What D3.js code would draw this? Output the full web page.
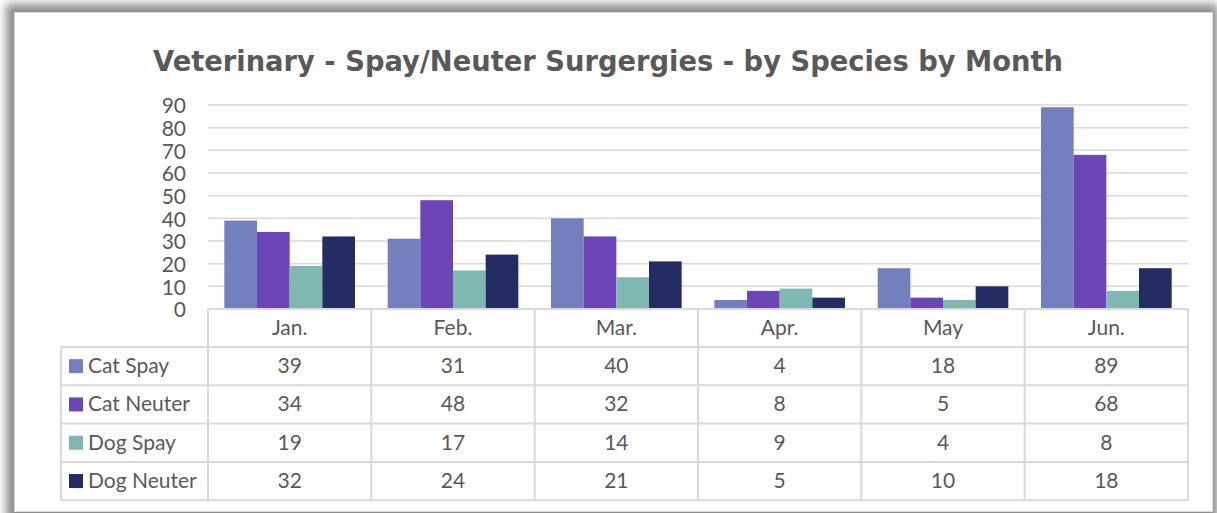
<!DOCTYPE html>
<html>
<head>
<meta charset="utf-8">
<script src="https://cdn.jsdelivr.net/npm/d3@7"></script>
<style>
  body { margin: 0; background: #ffffff; }
  svg { display: block; }
</style>
</head>
<body>
<div id="chart"></div>
<script>
// data
const months = ["Jan.", "Feb.", "Mar.", "Apr.", "May", "Jun."]
const seriesNames = ["Cat Spay", "Cat Neuter", "Dog Spay", "Dog Neuter"]
const catSpay = [39, 31, 40, 4, 18, 89]
const catNeuter = [34, 48, 32, 8, 5, 68]
const dogSpay = [19, 17, 14, 9, 4, 8]
const dogNeuter = [32, 24, 21, 5, 10, 18]
const yTicks = [0, 10, 20, 30, 40, 50, 60, 70, 80, 90]
const colors = ["#7480be", "#6c46b7", "#7fb8b0", "#232c63"]

const seriesValues = [catSpay, catNeuter, dogSpay, dogNeuter]

let width = 1217
let height = 513
let textColor = "#595959"
let lineColor = "#d9d9d9"
let font = "Lato, 'Open Sans', sans-serif"

let svg = d3.select("#chart")
  .append("svg")
  .attr("width", width)
  .attr("height", height)

// frame with soft shadow on top/left
let defs = svg.append("defs")
let blur = defs.append("filter").attr("id", "shadow")
  .attr("x", "-5%").attr("y", "-5%").attr("width", "110%").attr("height", "110%")
blur.append("feGaussianBlur").attr("stdDeviation", 5)

svg.append("rect")
  .attr("x", 6).attr("y", 4)
  .attr("width", 1212).attr("height", 520)
  .attr("fill", "#8c8c8c")
  .attr("filter", "url(#shadow)")

svg.append("rect")
  .attr("x", 14.5).attr("y", 12.5)
  .attr("width", 1198).attr("height", 499)
  .attr("fill", "#ffffff")
  .attr("stroke", "#d9d9d9")

// title
svg.append("text")
  .attr("x", 608)
  .attr("y", 71)
  .attr("text-anchor", "middle")
  .attr("textLength", 910)
  .attr("lengthAdjust", "spacingAndGlyphs")
  .style("font-family", "'DejaVu Sans', sans-serif")
  .style("font-weight", "bold")
  .style("font-size", "29px")
  .style("fill", textColor)
  .text("Veterinary - Spay/Neuter Surgergies - by Species by Month")

// plot geometry
let plotLeft = 208, plotRight = 1188, plotTop = 105, plotBottom = 309

let x0 = d3.scaleBand()
  .domain(months)
  .range([plotLeft, plotRight])
  .paddingInner(0.2)
  .paddingOuter(0.1)

let colStep = (plotRight - plotLeft) / months.length

let x1 = d3.scaleBand()
  .domain(seriesNames)
  .range([0, x0.bandwidth()])

let y = d3.scaleLinear()
  .domain([0, 90])
  .range([plotBottom, plotTop])

// gridlines
svg.append("g")
  .selectAll("line")
  .data(yTicks.filter(d => d > 0))
  .enter()
  .append("line")
    .attr("x1", plotLeft).attr("x2", plotRight)
    .attr("y1", d => y(d)).attr("y2", d => y(d))
    .attr("stroke", lineColor)
    .attr("stroke-width", 1.5)

// y axis labels
let yAxis = d3.axisLeft(y).tickValues(yTicks).tickSize(0).tickPadding(0)
let yg = svg.append("g")
  .attr("transform", "translate(186,1)")
  .call(yAxis)
yg.select(".domain").remove()
yg.selectAll("text")
  .style("font-family", font)
  .style("font-size", "21px")
  .style("fill", textColor)

// bars
let groups = svg.append("g")
  .selectAll("g")
  .data(months)
  .enter()
  .append("g")
    .attr("transform", d => "translate(" + x0(d) + ",0)")

groups.selectAll("rect")
  .data((m, i) => seriesNames.map((s, j) => ({ s: s, v: seriesValues[j][i], c: colors[j] })))
  .enter()
  .append("rect")
    .attr("x", d => x1(d.s))
    .attr("y", d => y(d.v))
    .attr("width", x1.bandwidth())
    .attr("height", d => y(0) - y(d.v))
    .style("fill", d => d.c)

// data table
let tableLeft = 61
let headerBottom = 347
let rowH = 38.3
let tableBottom = headerBottom + rowH * seriesNames.length

let tbl = svg.append("g")
  .attr("stroke", lineColor)
  .attr("stroke-width", 2)

// vertical lines of the month columns
d3.range(months.length + 1).forEach(i => {
  tbl.append("line")
    .attr("x1", plotLeft + i * colStep).attr("x2", plotLeft + i * colStep)
    .attr("y1", plotBottom).attr("y2", tableBottom)
})
tbl.append("line")
  .attr("x1", tableLeft).attr("x2", tableLeft)
  .attr("y1", headerBottom).attr("y2", tableBottom)
tbl.append("line")
  .attr("x1", plotLeft).attr("x2", plotRight)
  .attr("y1", plotBottom).attr("y2", plotBottom)
d3.range(seriesNames.length + 1).forEach(i => {
  let yy = headerBottom + i * rowH
  tbl.append("line")
    .attr("x1", tableLeft).attr("x2", plotRight)
    .attr("y1", yy).attr("y2", yy)
})

// month headers
svg.append("g")
  .selectAll("text")
  .data(months)
  .enter()
  .append("text")
    .attr("x", d => x0(d) + x0.bandwidth() / 2)
    .attr("y", (plotBottom + headerBottom) / 2 + 7)
    .attr("text-anchor", "middle")
    .style("font-family", font)
    .style("font-size", "21px")
    .style("fill", textColor)
    .text(d => d)

// rows: legend key + values
seriesNames.forEach((name, j) => {
  let cy = headerBottom + j * rowH + rowH / 2
  svg.append("rect")
    .attr("x", 69).attr("y", cy - 7)
    .attr("width", 14).attr("height", 14)
    .style("fill", colors[j])
  svg.append("text")
    .attr("x", 88)
    .attr("y", cy + 7)
    .style("font-family", font)
    .style("font-size", "21px")
    .style("fill", textColor)
    .text(name)
  svg.append("g")
    .selectAll("text")
    .data(seriesValues[j])
    .enter()
    .append("text")
      .attr("x", (d, i) => x0(months[i]) + x0.bandwidth() / 2)
      .attr("y", cy + 7)
      .attr("text-anchor", "middle")
      .style("font-family", font)
      .style("font-size", "21px")
      .style("fill", textColor)
      .text(d => d)
})
</script>
</body>
</html>
